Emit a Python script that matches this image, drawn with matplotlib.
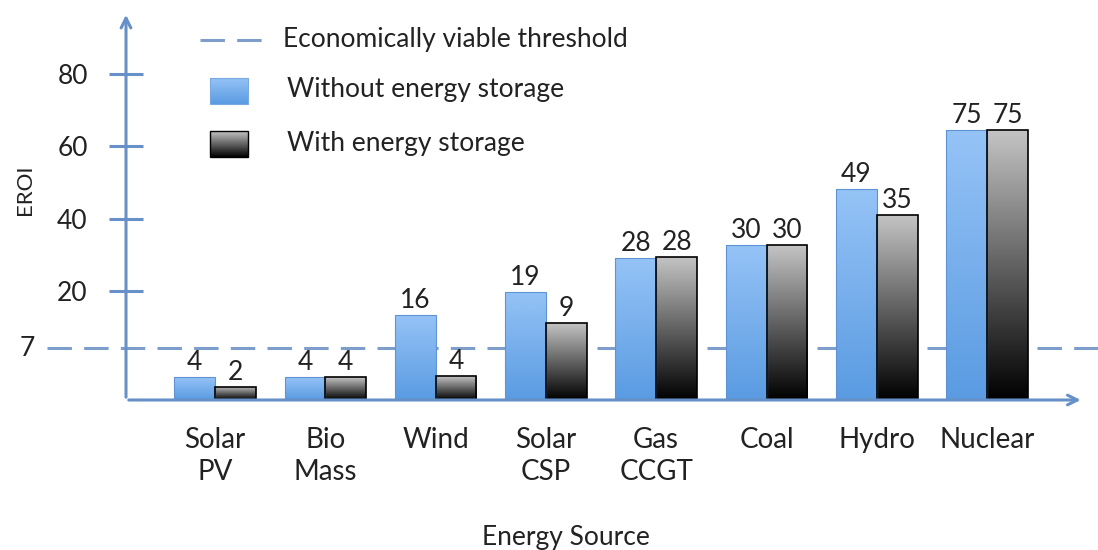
import numpy as np
import matplotlib
matplotlib.use('Agg')
import matplotlib.pyplot as plt
from matplotlib.colors import LinearSegmentedColormap
from matplotlib.patches import Rectangle
from matplotlib.image import AxesImage

plt.rcParams['font.family'] = ['Lato', 'DejaVu Sans']

# Данные
sources = ['Solar\nPV', 'Bio\nMass', 'Wind', 'Solar\nCSP', 'Gas\nCCGT', 'Coal', 'Hydro', 'Nuclear']
eroi_without = [4, 4, 16, 19, 28, 30, 49, 75]
eroi_with = [2, 4, 4, 9, 28, 30, 35, 75]
# высоты столбцов, как они нарисованы на исходной (нелинейной) оси
height_without = [6.3, 6.3, 23.4, 29.8, 39.1, 42.7, 58.1, 74.4]
height_with = [3.6, 6.3, 6.6, 21.2, 39.4, 42.7, 51.0, 74.4]
tick_pos = [30, 50, 70, 90]
tick_labels = ['20', '40', '60', '80']
threshold_pos = 14.3
threshold_label = '7'

axis_color = '#6690c8'
dash_color = '#7d9dcb'
text_color = '#222222'
blue_top, blue_bottom = '#95c3f6', '#5a9be2'
dark_top, dark_bottom = '#c4c4c4', '#000000'


def gradient_image(ax, x0, x1, y0, y1, top, bottom, clip, transform):
    cmap = LinearSegmentedColormap.from_list('g', [bottom, top])
    im = AxesImage(ax, cmap=cmap, origin='lower', extent=[x0, x1, y0, y1],
                   interpolation='bilinear', transform=transform)
    im.set_data(np.linspace(0, 1, 256).reshape(-1, 1))
    im.set_clip_path(clip)
    im.set_zorder(clip.get_zorder() - 0.01)
    ax.add_image(im)


fig = plt.figure(figsize=(10.98, 5.5), dpi=100)
ax = fig.add_axes([126 / 1098, 150 / 550, 972 / 1098, 388 / 550])

x = np.arange(len(sources))
w = 0.37
bars1 = ax.bar(x - w / 2, height_without, w, facecolor='none', edgecolor='#5f93d3', lw=0.8, zorder=3)
bars2 = ax.bar(x + w / 2, height_with, w, facecolor='none', edgecolor='black', lw=1.2, zorder=3)
for b in bars1:
    gradient_image(ax, b.get_x(), b.get_x() + b.get_width(), 0, b.get_height(),
                   blue_top, blue_bottom, b, ax.transData)
for b in bars2:
    gradient_image(ax, b.get_x(), b.get_x() + b.get_width(), 0, b.get_height(),
                   dark_top, dark_bottom, b, ax.transData)

# подписи значений
for xi, h, v in zip(x - w / 2, height_without, eroi_without):
    ax.text(xi, h + 0.6, str(v), ha='center', va='bottom', fontsize=19, color=text_color)
for xi, h, v in zip(x + w / 2, height_with, eroi_with):
    ax.text(xi, h + 0.6, str(v), ha='center', va='bottom', fontsize=19, color=text_color)

# порог
ax.plot([-0.081, 1.0], [threshold_pos, threshold_pos], transform=ax.get_yaxis_transform(),
        color=dash_color, lw=2.2, dashes=(8, 4), clip_on=False, zorder=2)
ax.text(-0.094, threshold_pos, threshold_label, transform=ax.get_yaxis_transform(),
        ha='right', va='center', fontsize=19, color=text_color)

# оси
for s in ax.spines.values():
    s.set_visible(False)
ax.annotate('', xy=(0, 1), xytext=(0, 0), xycoords='axes fraction',
            arrowprops=dict(arrowstyle='->,head_width=0.35,head_length=0.7', color=axis_color, lw=2.2))
ax.annotate('', xy=(0.985, 0), xytext=(0, 0), xycoords='axes fraction',
            arrowprops=dict(arrowstyle='->,head_width=0.35,head_length=0.7', color=axis_color, lw=2.2))
ax.set_yticks(tick_pos)
ax.set_yticklabels(tick_labels, fontsize=19, color=text_color)
ax.tick_params(axis='y', direction='inout', length=25, width=2.2, color=axis_color, pad=15)
ax.set_xticks([])

for xi, name in zip(x, sources):
    ax.text(xi, -0.07, name, transform=ax.get_xaxis_transform(), ha='center', va='top',
            fontsize=20, color=text_color, linespacing=1.3)

ax.set_xlim(-0.807, 8.005)
ax.set_ylim(0, 107)

fig.text(566 / 1098, 1 - 537 / 550, 'Energy Source', ha='center', va='center', fontsize=19, color=text_color)
fig.text(25 / 1098, 1 - 190 / 550, 'EROI', ha='center', va='center', rotation=90, fontsize=16, color=text_color)

# легенда
ax.plot([0.0761, 0.140], [0.928, 0.928], transform=ax.transAxes, color=dash_color, lw=2.2,
        dashes=(8, 4), clip_on=False)
ax.text(0.1615, 0.928, 'Economically viable threshold', transform=ax.transAxes, va='center',
        fontsize=19, color=text_color)
p1 = Rectangle((0.0864, 0.763), 0.039, 0.067, transform=ax.transAxes, facecolor='none',
               edgecolor='#7aa8e0', lw=0.8, zorder=3, clip_on=False)
ax.add_patch(p1)
gradient_image(ax, 0.0864, 0.1254, 0.763, 0.830, blue_top, blue_bottom, p1, ax.transAxes)
ax.text(0.1656, 0.799, 'Without energy storage', transform=ax.transAxes, va='center',
        fontsize=19, color=text_color)
p2 = Rectangle((0.0864, 0.626), 0.039, 0.067, transform=ax.transAxes, facecolor='none',
               edgecolor='black', lw=1.0, zorder=3, clip_on=False)
ax.add_patch(p2)
gradient_image(ax, 0.0864, 0.1254, 0.626, 0.693, dark_top, dark_bottom, p2, ax.transAxes)
ax.text(0.1656, 0.662, 'With energy storage', transform=ax.transAxes, va='center',
        fontsize=19, color=text_color)

fig.savefig('out.png', dpi=100)
plt.close(fig)
